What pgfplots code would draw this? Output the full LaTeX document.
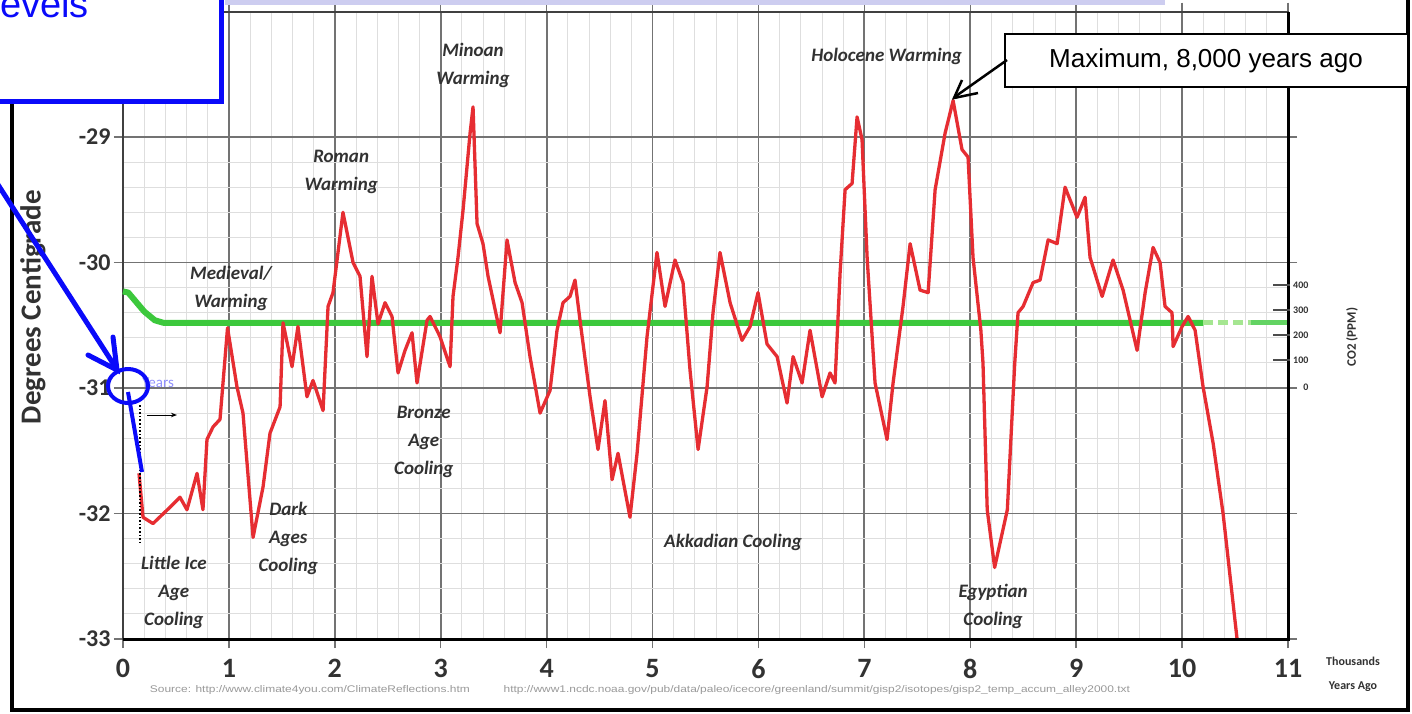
\documentclass[border=0pt]{standalone}
\usepackage{fontspec}
\setmainfont{Carlito}
\newfontfamily\arial{Liberation Sans}
\usepackage{pgfplots}
\pgfplotsset{compat=1.18}
\usepackage{graphicx}
\usetikzlibrary{arrows.meta}
\definecolor{chartred}{RGB}{230,45,50}
\definecolor{chartgreen}{RGB}{60,200,60}
\definecolor{lightgreen}{RGB}{165,230,145}
\definecolor{txtgray}{RGB}{50,50,50}
\definecolor{lav}{RGB}{205,205,240}
\definecolor{boxblue}{RGB}{10,10,250}
\begin{document}
\begin{tikzpicture}
\useasboundingbox (0,0) rectangle (1412pt,-713pt);
\clip (0,0) rectangle (1412pt,-713pt);
\fill[white] (0,0) rectangle (1412pt,-713pt);
\begin{axis}[
  at={(123pt,-639pt)}, anchor=south west, scale only axis,
  width=1165pt, height=627.5pt,
  xmin=0, xmax=11, ymin=-33, ymax=-28,
  xtick={0,1,2,3,4,5,6,7,8,9,10,11},
  xticklabels={0,1,2,3,4,5,6,7,8,9,10,11},
  ytick={-33,-32,-31,-30,-29},
  yticklabels={-33,-32,-31,-30,-29},
  minor x tick num=4, minor y tick num=4,
  grid=both,
  major grid style={draw=black!55, line width=1.8pt},
  minor grid style={draw=black!13, line width=0.9pt},
  axis line style={draw=black!75, line width=2pt},
  tick align=outside, major tick length=9pt, minor tick length=0pt,
  tick style={draw=black!55, line width=1.5pt},
  xticklabel style={font=\fontsize{28}{28}\selectfont\bfseries, text=txtgray, yshift=-8pt},
  yticklabel style={font=\fontsize{24}{24}\selectfont\bfseries, text=txtgray},
  clip=false,
]
\addplot[chartgreen, line width=6pt, line join=round] coordinates {
(0,-30.23) (0.05,-30.24) (0.2,-30.39) (0.3,-30.46) (0.38,-30.48) (10.2,-30.48)};
\addplot[lightgreen, line width=5pt, dash pattern=on 10pt off 5pt] coordinates {(10.2,-30.48) (10.65,-30.48)};
\addplot[chartgreen!80, line width=5pt] coordinates {(10.65,-30.48) (11.0,-30.48)};
\addplot[chartred, line width=3.3pt, line join=round] coordinates {
(0.151,-31.68) (0.189,-32.03) (0.283,-32.08) (0.444,-31.95) (0.538,-31.87) (0.604,-31.97) (0.699,-31.68) (0.755,-31.97) (0.793,-31.41) (0.850,-31.31) (0.916,-31.25) (0.987,-30.52) (1.076,-30.99) (1.133,-31.20) (1.228,-32.19) (1.322,-31.79) (1.388,-31.36) (1.483,-31.15) (1.511,-30.48) (1.596,-30.83) (1.652,-30.51) (1.737,-31.07) (1.794,-30.94) (1.889,-31.18) (1.936,-30.35) (1.983,-30.24) (2.077,-29.60) (2.172,-30.00) (2.238,-30.11) (2.304,-30.75) (2.351,-30.11) (2.408,-30.49) (2.474,-30.32) (2.540,-30.43) (2.597,-30.88) (2.663,-30.70) (2.729,-30.56) (2.776,-30.96) (2.871,-30.46) (2.899,-30.43) (2.993,-30.59) (3.088,-30.83) (3.116,-30.27) (3.163,-29.96) (3.211,-29.58) (3.277,-28.97) (3.305,-28.76) (3.343,-29.69) (3.399,-29.85) (3.447,-30.11) (3.560,-30.56) (3.626,-29.82) (3.702,-30.16) (3.768,-30.32) (3.843,-30.75) (3.938,-31.20) (4.032,-31.02) (4.098,-30.54) (4.155,-30.32) (4.221,-30.27) (4.268,-30.14) (4.315,-30.46) (4.410,-31.07) (4.485,-31.49) (4.551,-31.10) (4.618,-31.73) (4.674,-31.52) (4.787,-32.03) (4.854,-31.52) (4.948,-30.59) (5.042,-29.92) (5.118,-30.35) (5.212,-29.98) (5.288,-30.16) (5.354,-30.86) (5.430,-31.49) (5.515,-30.99) (5.571,-30.40) (5.637,-29.92) (5.732,-30.32) (5.845,-30.62) (5.921,-30.51) (5.996,-30.24) (6.081,-30.65) (6.176,-30.75) (6.270,-31.12) (6.327,-30.75) (6.412,-30.96) (6.487,-30.54) (6.601,-31.07) (6.676,-30.88) (6.723,-30.96) (6.771,-30.08) (6.818,-29.42) (6.884,-29.37) (6.931,-28.84) (6.978,-29.02) (7.026,-29.96) (7.101,-30.96) (7.214,-31.41) (7.271,-30.96) (7.365,-30.35) (7.432,-29.85) (7.526,-30.22) (7.602,-30.24) (7.668,-29.42) (7.762,-28.97) (7.838,-28.71) (7.922,-29.10) (7.979,-29.16) (8.026,-29.96) (8.100,-30.54) (8.120,-30.80) (8.160,-31.97) (8.230,-32.43) (8.350,-31.97) (8.420,-30.80) (8.451,-30.40) (8.499,-30.35) (8.593,-30.16) (8.659,-30.14) (8.735,-29.82) (8.820,-29.85) (8.895,-29.40) (9.008,-29.64) (9.084,-29.48) (9.131,-29.96) (9.245,-30.27) (9.348,-29.98) (9.443,-30.22) (9.575,-30.70) (9.651,-30.24) (9.726,-29.88) (9.792,-30.00) (9.839,-30.35) (9.905,-30.40) (9.915,-30.67) (10.000,-30.51) (10.057,-30.43) (10.123,-30.54) (10.198,-30.99) (10.293,-31.44) (10.387,-32.00) (10.519,-33.00)};
\tikzset{ann/.style={font=\fontsize{19}{28}\selectfont\bfseries\itshape, text=txtgray, align=center, inner sep=0pt}}
\node[ann] at (axis cs:3.305,-28.43) {Minoan\\Warming};
\node[ann] at (axis cs:2.06,-29.28) {Roman\\Warming};
\node[ann] at (axis cs:1.02,-30.21) {Medieval/\\Warming};
\node[ann] at (axis cs:2.84,-31.43) {Bronze\\Age\\Cooling};
\node[ann] at (axis cs:1.56,-32.20) {Dark\\Ages\\Cooling};
\node[ann] at (axis cs:0.48,-32.63) {Little Ice\\Age\\Cooling};
\node[ann] at (axis cs:5.76,-32.23) {Akkadian Cooling};
\node[ann] at (axis cs:8.215,-32.74) {Egyptian\\Cooling};
\node[ann] at (axis cs:7.21,-28.36) {Holocene Warming};
\end{axis}
\begin{scope}[x=1pt,y=-1pt]
\draw[black, line width=3pt] (123,639) -- (1288,639) -- (1288,11.5);
\fill[lav] (225,0) rectangle (1165,5);
\draw[black, dotted, line width=1.6pt] (140,405) -- (140,545);
\draw[black, line width=1pt, -{Stealth[length=6pt]}] (147,415) -- (177,415);
\node[text=boxblue!45, font=\fontsize{15}{15}\selectfont] at (158,383) {Years};
% CO2 scale
\foreach \yy/\lab in {285/400,310/300,335/200,360/100}{
  \draw[black!70, line width=2pt] (1273,\yy) -- (1290,\yy);
  \node[font=\fontsize{10}{10}\selectfont\bfseries, text=txtgray, anchor=west, inner sep=1pt] at (1292,\yy) {\lab};
}
\node[font=\fontsize{10}{10}\selectfont\bfseries, text=txtgray] at (1306,387) {0};
\node[rotate=90, font=\fontsize{13}{13}\selectfont\bfseries, text=txtgray] at (1352,337) {CO2 (PPM)};
\node[font=\fontsize{12}{24}\selectfont\bfseries, text=txtgray, align=center] at (1353,674) {Thousands\\Years Ago};
\node[rotate=90, font=\fontsize{29}{29}\selectfont\bfseries, text=txtgray] at (33,307) {Degrees Centigrade};
\node[text=black!40, inner sep=0pt] at (640,690) {\resizebox{980pt}{7pt}{\arial Source: http://www.climate4you.com/ClimateReflections.htm \quad ~ \quad http://www1.ncdc.noaa.gov/pub/data/paleo/icecore/greenland/summit/gisp2/isotopes/gisp2\_temp\_accum\_alley2000.txt}};
% frame
\draw[black, line width=3.5pt] (12,-10) -- (12,710) -- (1408,710) -- (1408,-10);
% blue annotation
\draw[boxblue, line width=5pt, fill=white] (-20,-20) rectangle (221,101);
\node[anchor=base east, text=boxblue, font=\arial\fontsize{38}{38}\selectfont, inner sep=0pt] at (89,17) {Levels};
\draw[boxblue, line width=5pt] (-5,180) -- (116,368);
\draw[boxblue, line width=5pt, line cap=round, line join=miter] (88,355) -- (117,370) -- (113,337);
\draw[boxblue, line width=4pt] (128,386) ellipse [x radius=20pt, y radius=17pt];
\draw[boxblue, line width=4pt] (128,392) -- (142,472);
% callout
\draw[black, line width=2pt, fill=white] (1005,34) rectangle (1408,87);
\node[font=\arial\fontsize{26}{26}\selectfont, inner sep=0pt] at (1206,61) {Maximum, 8,000 years ago};
\draw[black, line width=2.5pt] (1007,60) -- (956,96);
\draw[black, line width=2.5pt, line join=miter] (978,93) -- (954,98) -- (962,80);
\end{scope}
\end{tikzpicture}
\end{document}
